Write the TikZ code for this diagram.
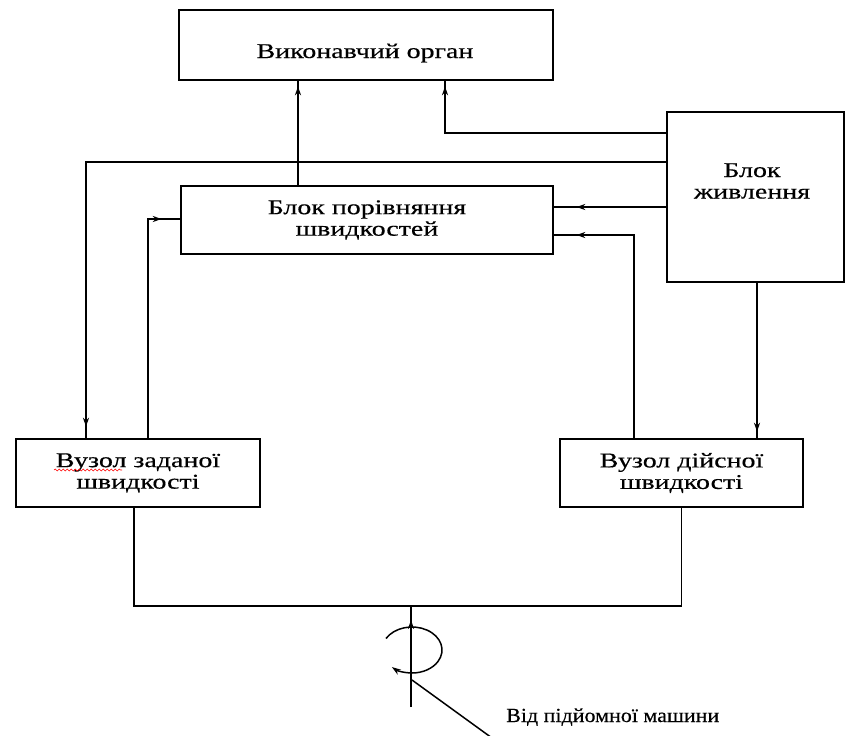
\documentclass[tikz,border=0pt]{standalone}
\usepackage{fontspec}
\setmainfont{Liberation Serif}
\newfontfamily\widefont[FakeStretch=1.33,FakeBold=0.4]{Liberation Serif}
\newfontfamily\lblfont[FakeStretch=1.1,FakeBold=0.4]{Liberation Serif}
\usetikzlibrary{arrows.meta,decorations.markings,decorations.pathmorphing}
\begin{document}
\begin{tikzpicture}[x=1pt,y=-1pt,
  blk/.style={draw, line width=2.6pt, rectangle, align=center, inner sep=0pt},
  btxt/.style={font=\widefont\fontsize{21}{21.5}\selectfont, align=center, inner sep=0pt},
  wire/.style={line width=1.5pt},
  marr/.style={wire, postaction={decorate}, decoration={markings, mark=at position -#1 with {\arrow{Stealth[length=9pt,width=6pt]}}}},
]
\useasboundingbox (0,0) rectangle (846,736);

% blocks
\node[blk, minimum width=374pt, minimum height=70pt] (top) at (366,45) {};
\node[btxt, anchor=base] (topT) at (365,58) {Виконавчий орган};
\node[blk, btxt, minimum width=372pt, minimum height=68pt] (cmp) at (367,220) {Блок порівняння\\швидкостей};
\node[blk, minimum width=177pt, minimum height=170pt] (pwr) at (755.5,197) {};
\node[btxt] (pwrT) at (752,181) {Блок\\живлення};
\node[blk, btxt, minimum width=244pt, minimum height=68pt] (zad) at (138,473) {Вузол заданої\\швидкості};
\node[blk, btxt, minimum width=243pt, minimum height=68pt] (dis) at (681.5,473) {Вузол дійсної\\швидкості};

% spell-check squiggle
\draw[red, line width=0.6pt, decorate, decoration={snake, amplitude=0.9pt, segment length=4pt}] (54,470) -- (122,470);

% route points
\coordinate (xA) at (298,0);
\coordinate (jB) at (445,133);
\coordinate (jC) at (86,162);
\coordinate (yD) at (0,207);
\coordinate (jE) at (634,235);
\coordinate (jF) at (148,219);
\coordinate (xG) at (757,0);

% connectors
\draw[marr=5pt] (cmp.north -| xA) -- (top.south -| xA);
\draw[marr=5pt] (pwr.west |- jB) -- (jB) -- (top.south -| jB);
\draw[marr=11pt] (pwr.west |- jC) -- (jC) -- (zad.north -| jC);
\draw[marr=22pt] (pwr.west |- yD) -- (cmp.east |- yD);
\draw[marr=22pt] (dis.north -| jE) -- (jE) -- (cmp.east |- jE);
\draw[marr=18pt] (zad.north -| jF) -- (jF) -- (cmp.west |- jF);
\draw[marr=6pt] (pwr.south -| xG) -- (dis.north -| xG);

% bus and shaft
\coordinate (busL) at (134,606);
\coordinate (bus) at (411,606);
\coordinate (shaftB) at (411,707);
\draw[wire] (zad.south -| busL) -- (busL) -| (dis.south);
\draw[marr=14pt] (shaftB) -- (bus);

% rotation arrow
\coordinate (rot) at (412,650);
\draw[wire, -{Stealth[length=9pt,width=6pt]}] (rot) ++(210:30 and 23) arc[start angle=210, end angle=492, x radius=30, y radius=23];

% pointer to label
\coordinate (dA) at (412,680);
\coordinate (dB) at (492,738);
\draw[wire] (dA) -- (dB);
\node[font=\lblfont\fontsize{20}{21}\selectfont, anchor=base west, inner sep=0pt] (lbl) at (506,722) {Від підйомної машини};
\end{tikzpicture}
\end{document}
